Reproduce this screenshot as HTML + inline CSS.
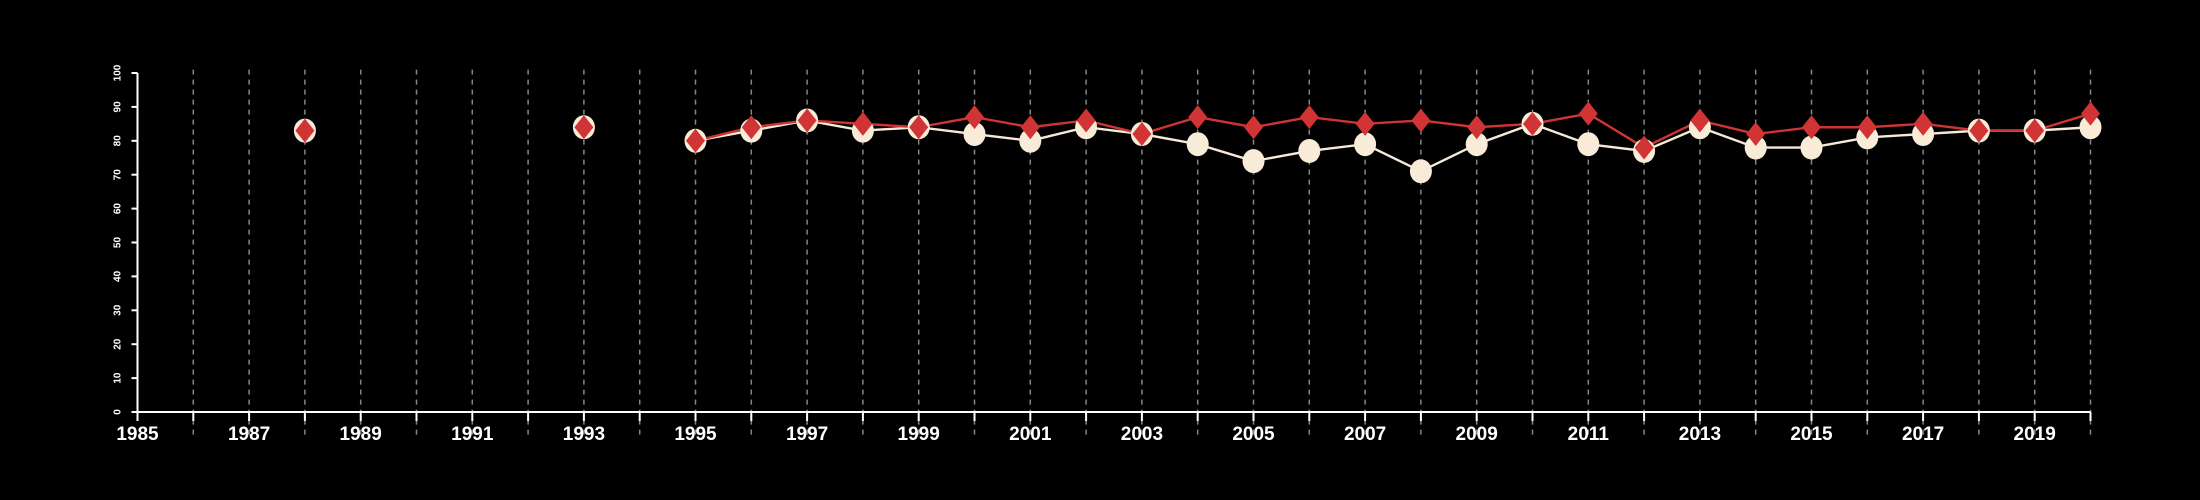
<!DOCTYPE html>
<html><head><meta charset="utf-8"><style>
html,body{margin:0;padding:0;background:#000;}
svg{display:block;}
text{font-family:"Liberation Sans",sans-serif;font-weight:bold;fill:#fff;}
</style></head><body>
<svg id="chart" width="2200" height="500" viewBox="0 0 2200 500">
<rect width="2200" height="500" fill="#000"/>
<g id="grid"></g>
<g id="axes"></g>
<g id="series"></g>
</svg>
<script>
const years = [1988,1993,1995,1996,1997,1998,1999,2000,2001,2002,2003,2004,2005,2006,2007,2008,2009,2010,2011,2012,2013,2014,2015,2016,2017,2018,2019,2020];
const seriesCircle = [83,84,80,83,86,83,84,82,80,84,82,79,74,77,79,71,79,85,79,77,84,78,78,81,82,83,83,84];
const seriesDiamond = [83,84,80,84,86,85,84,87,84,86,82,87,84,87,85,86,84,85,88,78,86,82,84,84,85,83,83,88];
const yTicks = [0,10,20,30,40,50,60,70,80,90,100];
const xTickLabels = [1985,1987,1989,1991,1993,1995,1997,1999,2001,2003,2005,2007,2009,2011,2013,2015,2017,2019];

const NS="http://www.w3.org/2000/svg";
const X0=137.5, PX=55.8, Y0=412, PY=3.39;
const xs=v=>X0+(v-1985)*PX, ys=v=>Y0-v*PY;
function mk(tag,attrs,parent){const e=document.createElementNS(NS,tag);for(const k in attrs)e.setAttribute(k,attrs[k]);parent.appendChild(e);return e;}
const grid=document.getElementById('grid'),axes=document.getElementById('axes'),ser=document.getElementById('series');

for(let y=1986;y<=2020;y++){
  const g=mk('line',{x1:xs(y),x2:xs(y),y1:ys(101),y2:Y0+26,stroke:'#858585','stroke-width':1.5,'stroke-dasharray':'5,5'},grid);
  
  
}
const xa=mk('line',{x1:xs(1985),x2:xs(2020),y1:Y0,y2:Y0,stroke:'#fff','stroke-width':2},axes);


const ya=mk('line',{x1:X0,x2:X0,y1:ys(0),y2:ys(100),stroke:'#fff','stroke-width':2},axes);


for(let y=1985;y<=2020;y++){
  const t=mk('line',{x1:xs(y),x2:xs(y),y1:Y0,y2:Y0+9,stroke:'#fff','stroke-width':2},axes);
  
  
}
xTickLabels.forEach(v=>{
  const t=mk('text',{x:xs(v),y:Y0+28,'text-anchor':'middle','font-size':19},axes);
  t.textContent=v;
  
  
});
yTicks.forEach(v=>{
  const t=mk('line',{x1:X0-6,x2:X0,y1:ys(v),y2:ys(v),stroke:'#fff','stroke-width':2},axes);
  
  
  const l=mk('text',{x:0,y:0,'text-anchor':'middle','font-size':10,transform:`translate(${X0-17},${ys(v)}) rotate(-90)`},axes);
  l.textContent=v;
  
  
});
function drawLine(vals,color,name){
  let pts=[];
  for(let i=0;i<years.length;i++){ if(years[i]>=1995) pts.push(xs(years[i])+','+ys(vals[i])); }
  const p=mk('polyline',{points:pts.join(' '),fill:'none',stroke:color,'stroke-width':2.4},ser);
  
  
}
drawLine(seriesCircle,'#f5ead8','line-circle-series');
drawLine(seriesDiamond,'#cf3434','line-diamond-series');
years.forEach((y,i)=>{
  const c=mk('ellipse',{cx:xs(y),cy:ys(seriesCircle[i]),rx:11,ry:12,fill:'#f8ecd9'},ser);
  
  
});
years.forEach((y,i)=>{
  const cx=xs(y),cy=ys(seriesDiamond[i]);
  const d=mk('polygon',{points:`${cx},${cy-12} ${cx+9.5},${cy} ${cx},${cy+12} ${cx-9.5},${cy}`,fill:'#d03434'},ser);
  
  
});
</script>
</body></html>
